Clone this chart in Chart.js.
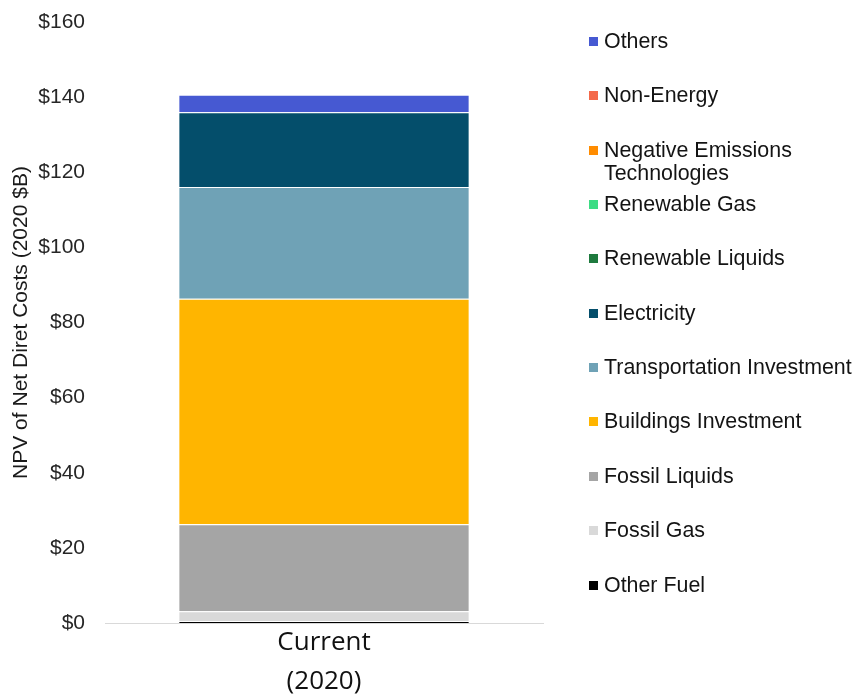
<!DOCTYPE html>
<html>
<head>
<meta charset="utf-8">
<script src="https://cdn.jsdelivr.net/npm/chart.js@4/dist/chart.umd.min.js"></script>
<style>
  html, body { margin: 0; padding: 0; background: #fff; }
  #wrap { position: relative; width: 856px; height: 696px; }
  #legend { position: absolute; left: 0; top: 0; width: 856px; height: 696px; pointer-events: none;
            font-family: "Liberation Sans", Arial, sans-serif; font-size: 21.4px; color: #141414; }
  .item { position: absolute; left: 589px; width: 264px; line-height: 23px; }
  .swatch { position: absolute; left: 0; top: 7px; width: 9px; height: 9px; }
  .txt { margin-left: 15px; }
</style>
</head>
<body>
<div id="wrap">
  <canvas id="c" width="856" height="696"></canvas>
  <div id="legend"></div>
</div>
<script>
// Categories (x axis), multi-line label
const categories = [["Current", "(2020)"]];

// Series, bottom of the stack first
const seriesNames = [
  "Other Fuel", "Fossil Gas", "Fossil Liquids", "Buildings Investment",
  "Transportation Investment", "Electricity", "Renewable Liquids",
  "Renewable Gas", "Negative Emissions Technologies", "Non-Energy", "Others"
];
const seriesColors = [
  "#000000", "#d9d9d9", "#a5a5a5", "#ffb500",
  "#6fa2b6", "#044e6b", "#1e7a3e",
  "#3ddc84", "#ff8c00", "#f4694a", "#4659d2"
];
// NPV values, $B (one value per category)
const otherFuel = [0.5];
const fossilGas = [2.6];
const fossilLiquids = [23.2];
const buildingsInvestment = [60.0];
const transportationInvestment = [29.8];
const electricity = [19.9];
const renewableLiquids = [0];
const renewableGas = [0];
const negativeEmissions = [0];
const nonEnergy = [0];
const others = [4.6];
const seriesValues = [
  otherFuel, fossilGas, fossilLiquids, buildingsInvestment,
  transportationInvestment, electricity, renewableLiquids,
  renewableGas, negativeEmissions, nonEnergy, others
];

// Y axis ticks
const yMin = 0, yMax = 160, yStep = 20;
const yTitle = "NPV of Net Diret Costs (2020 $B)";

const datasets = seriesNames.map((name, i) => ({
  label: name,
  data: seriesValues[i],
  backgroundColor: seriesColors[i],
  borderColor: "#ffffff",
  borderWidth: 1,
  barPercentage: 0.665,
  categoryPercentage: 1.0
}));

new Chart(document.getElementById("c"), {
  type: "bar",
  data: { labels: categories, datasets },
  options: {
    responsive: false,
    animation: false,
    layout: { padding: { top: 22, right: 313, left: 0, bottom: 0 } },
    plugins: { legend: { display: false }, tooltip: { enabled: false } },
    scales: {
      x: {
        stacked: true,
        grid: { display: false, drawTicks: false },
        border: { display: true, color: "#d9d9d9", width: 1 },
        ticks: {
          padding: 0,
          color: "#111",
          font: { family: "'Open Sans', sans-serif", size: 26, lineHeight: 1.5 }
        },
        afterFit: (s) => { s.height = 73; }
      },
      y: {
        stacked: true,
        min: yMin, max: yMax,
        grid: { display: false, drawTicks: false },
        border: { display: false },
        ticks: {
          stepSize: yStep,
          padding: 20,
          color: "#262626",
          font: { family: "'Liberation Sans', Arial, sans-serif", size: 21 },
          callback: (v) => "$" + v
        },
        title: {
          display: true,
          text: yTitle,
          color: "#1a1a1a",
          padding: { top: 9, bottom: 0 },
          font: { family: "'Liberation Sans', Arial, sans-serif", size: 21 }
        },
        afterFit: (s) => { s.width = 105; s.paddingTop = 0; s.paddingBottom = 0; }
      }
    }
  }
});

// Legend (top of stack first), built from the series arrays
const legend = document.getElementById("legend");
for (let k = 0; k < seriesNames.length; k++) {
  const i = seriesNames.length - 1 - k;
  const div = document.createElement("div");
  div.className = "item";
  div.style.top = (41.5 + k * 54.35 - 11.5) + "px";
  const sw = document.createElement("span");
  sw.className = "swatch";
  sw.style.background = seriesColors[i];
  const tx = document.createElement("div");
  tx.className = "txt";
  tx.textContent = seriesNames[i];
  div.appendChild(sw);
  div.appendChild(tx);
  legend.appendChild(div);
}
</script>
</body>
</html>
